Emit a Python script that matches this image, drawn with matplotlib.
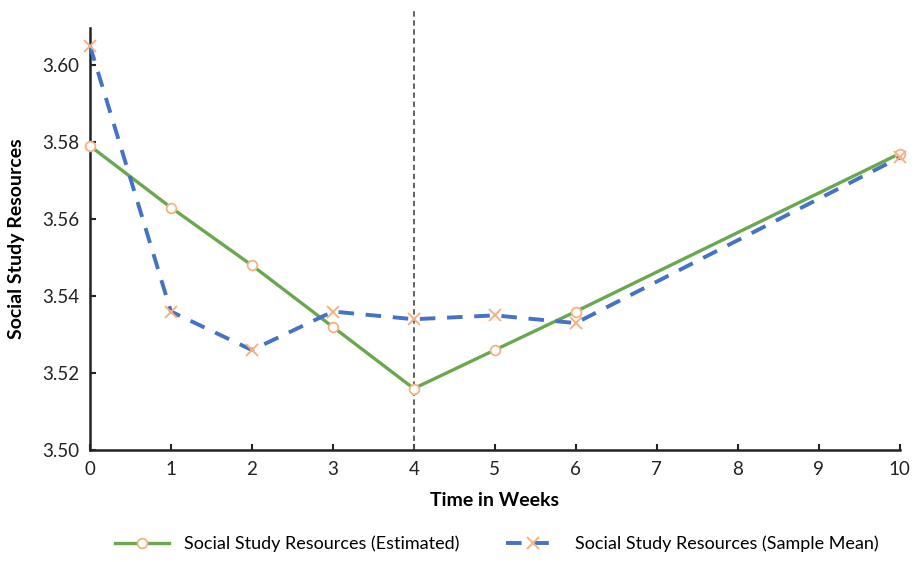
import matplotlib
matplotlib.use("Agg")
import matplotlib.pyplot as plt

weeks = [0, 1, 2, 3, 4, 5, 6, 10]
estimated = [3.579, 3.563, 3.548, 3.532, 3.516, 3.526, 3.536, 3.577]
sample_mean = [3.605, 3.536, 3.526, 3.536, 3.534, 3.535, 3.533, 3.576]
x_ticks = list(range(0, 11))
y_ticks = [3.50, 3.52, 3.54, 3.56, 3.58, 3.60]

plt.rcParams['font.family'] = ['Lato', 'DejaVu Sans']

fig = plt.figure(figsize=(9.2, 5.62), dpi=100)
ax = fig.add_axes([0.0978, 0.199, 0.880, 0.751])

green = '#6aa84f'
blue = '#4472c4'
peach = '#f4b183'

ax.plot(weeks, estimated, color=green, lw=2.4, marker='o', ms=7,
        mfc='white', mec=peach, mew=1.3, zorder=3, clip_on=False,
        label='Social Study Resources (Estimated)')
ax.plot(weeks, sample_mean, color=blue, lw=2.8, ls=(0, (4, 3)), marker='x', ms=8,
        mec=peach, mew=1.4, zorder=4, clip_on=False,
        label='Social Study Resources (Sample Mean)')

ax.axvline(4, ymin=0, ymax=1.047, color='#555555', lw=1.3, ls=(0, (3, 2)),
           clip_on=False, zorder=2)

ax.set_xlim(0, 10)
ax.set_ylim(3.50, 3.6096)
ax.set_xticks(x_ticks)
ax.set_yticks(y_ticks)
ax.set_yticklabels([f"{v:.2f}" for v in y_ticks])

for s in ['top', 'right']:
    ax.spines[s].set_visible(False)
for s in ['left', 'bottom']:
    ax.spines[s].set_linewidth(1.8)
    ax.spines[s].set_color('#222222')

ax.tick_params(axis='both', direction='in', length=4, width=1.5, labelsize=13.5,
               colors='#222222')
ax.tick_params(axis='x', pad=8)
ax.tick_params(axis='y', pad=8)

ax.set_xlabel('Time in Weeks', fontsize=14, fontweight='bold', labelpad=10)
ax.set_ylabel('Social Study Resources', fontsize=14, fontweight='bold', labelpad=12)

fig.legend(loc='lower center', bbox_to_anchor=(0.54, -0.012), ncol=2, frameon=False,
           fontsize=13, columnspacing=2.6, handlelength=3.0)

fig.savefig('out.png', dpi=100)
